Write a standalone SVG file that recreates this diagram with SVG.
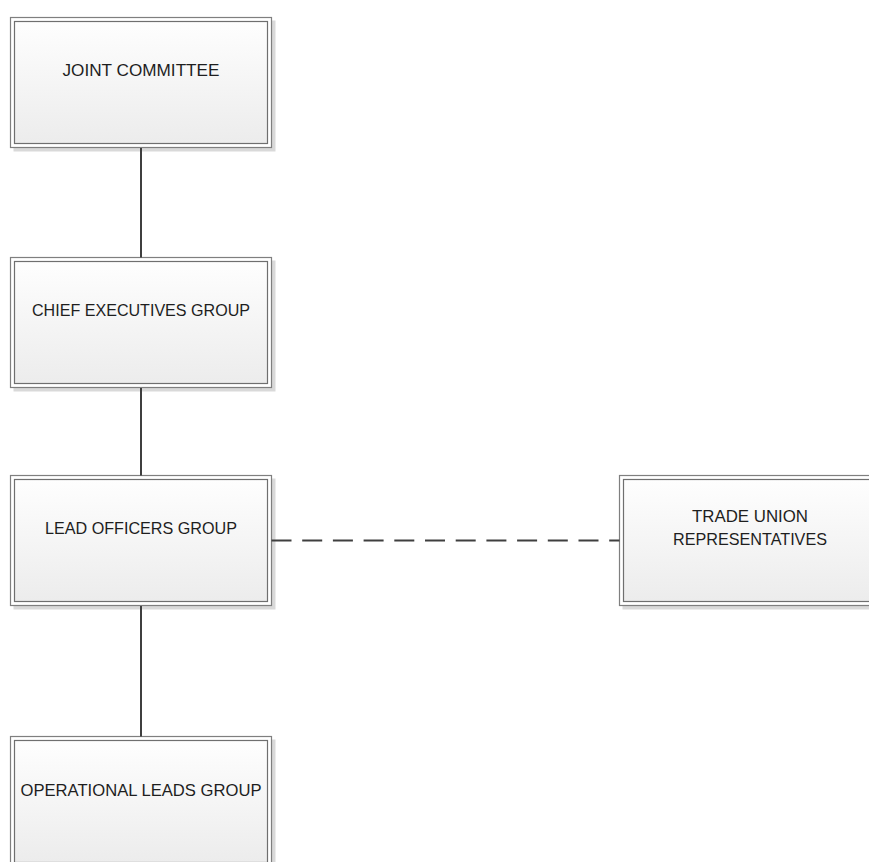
<svg xmlns="http://www.w3.org/2000/svg" width="869" height="862" viewBox="0 0 869 862">
<defs>
<linearGradient id="fillg" x1="0" y1="0" x2="0" y2="1">
<stop offset="0" stop-color="#fefefe"/>
<stop offset="1" stop-color="#ececec"/>
</linearGradient>
<style>
.shadow{fill:#d9d9d9;stroke:none}
.outer{fill:#ffffff;stroke:#7f7f7f;stroke-width:1.2}
.inner{fill:url(#fillg);stroke:#6f6f6f;stroke-width:1.2}
.lbl{font-family:"Liberation Sans",Arial,sans-serif;font-size:17px;fill:#1e1e1e;text-anchor:middle}
.conn{stroke:#3f3f3f;stroke-width:2;fill:none}
.dash{stroke-dasharray:20 10.7}
</style>
</defs>
<rect width="869" height="862" fill="#ffffff"/>
<g id="joint-committee">
<rect class="shadow" x="13.5" y="20.5" width="262" height="131"/>
<rect class="outer" x="10.5" y="17.5" width="261" height="130"/>
<rect class="inner" x="14.5" y="21.5" width="253" height="122"/>
<text class="lbl" x="141" y="76" textLength="157" lengthAdjust="spacingAndGlyphs">JOINT COMMITTEE</text>
</g>
<g id="chief-executives-group">
<rect class="shadow" x="13.5" y="260.5" width="262" height="131"/>
<rect class="outer" x="10.5" y="257.5" width="261" height="130"/>
<rect class="inner" x="14.5" y="261.5" width="253" height="122"/>
<text class="lbl" x="141" y="316" textLength="218" lengthAdjust="spacingAndGlyphs">CHIEF EXECUTIVES GROUP</text>
</g>
<g id="lead-officers-group">
<rect class="shadow" x="13.5" y="478.5" width="262" height="131"/>
<rect class="outer" x="10.5" y="475.5" width="261" height="130"/>
<rect class="inner" x="14.5" y="479.5" width="253" height="122"/>
<text class="lbl" x="141" y="534" textLength="192" lengthAdjust="spacingAndGlyphs">LEAD OFFICERS GROUP</text>
</g>
<g id="trade-union-representatives">
<rect class="shadow" x="622.5" y="478.5" width="262" height="131"/>
<rect class="outer" x="619.5" y="475.5" width="261" height="130"/>
<rect class="inner" x="623.5" y="479.5" width="253" height="122"/>
<text class="lbl" x="750" y="522" textLength="116" lengthAdjust="spacingAndGlyphs">TRADE UNION</text>
<text class="lbl" x="750" y="545" textLength="154" lengthAdjust="spacingAndGlyphs">REPRESENTATIVES</text>
</g>
<g id="operational-leads-group">
<rect class="shadow" x="13.5" y="739.5" width="262" height="131"/>
<rect class="outer" x="10.5" y="736.5" width="261" height="130"/>
<rect class="inner" x="14.5" y="740.5" width="253" height="122"/>
<text class="lbl" x="141" y="796" textLength="241" lengthAdjust="spacingAndGlyphs">OPERATIONAL LEADS GROUP</text>
</g>
<g id="connectors">
<line class="conn" x1="141" y1="148" x2="141" y2="257.5"/>
<line class="conn" x1="141" y1="388" x2="141" y2="475.5"/>
<line class="conn" x1="141" y1="606" x2="141" y2="736.5"/>
<line class="conn dash" x1="271.5" y1="540.5" x2="619.5" y2="540.5"/>
</g>
</svg>
